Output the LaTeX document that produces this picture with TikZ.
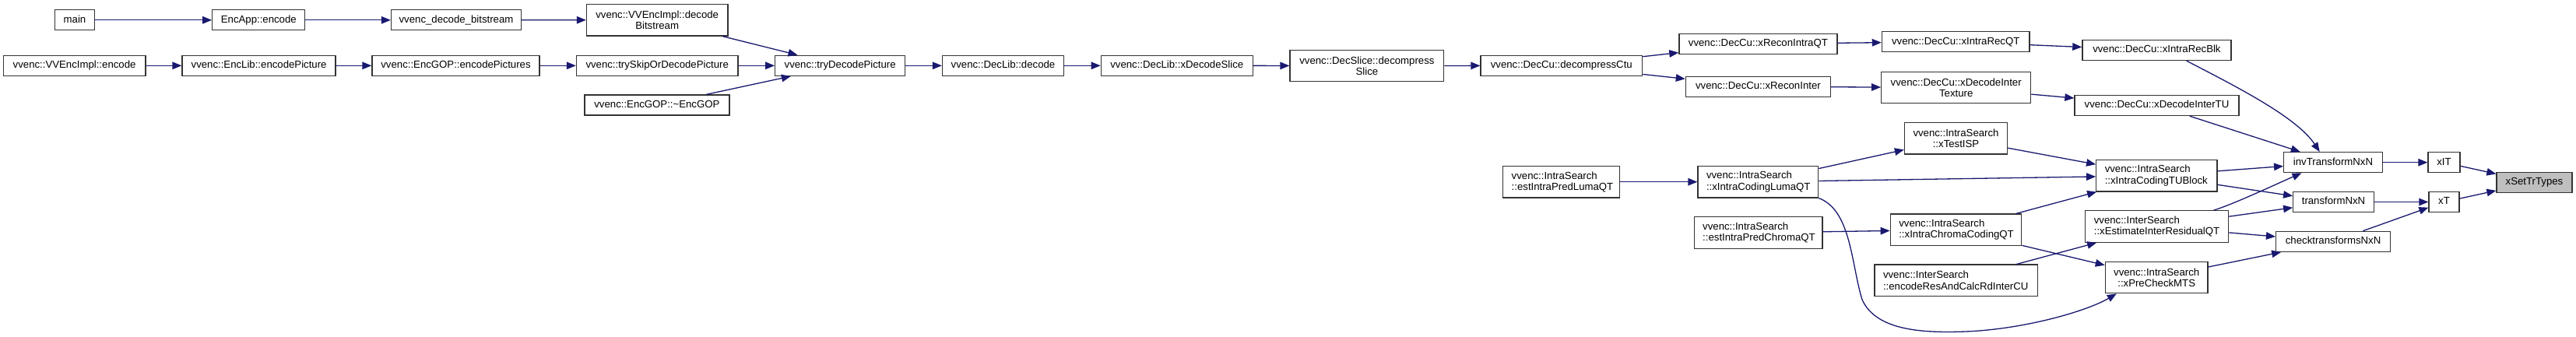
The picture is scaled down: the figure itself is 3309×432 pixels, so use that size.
\documentclass[tikz,border=0pt]{standalone}
\usepackage{fontspec}
\setmainfont{Liberation Sans}
\usetikzlibrary{arrows.meta}
\definecolor{edgeblue}{HTML}{191970}
\definecolor{focusgray}{HTML}{BFBFBF}
\definecolor{bordergray}{HTML}{333333}
\begin{document}
\begin{tikzpicture}[x=1pt,y=-1pt,
  nodebase/.style={draw=bordergray, line width=1.3pt, fill=white, inner sep=0pt, text=black,
    font=\fontsize{13.2}{14.3}\selectfont,
    execute at begin node={\hyphenpenalty=10000\exhyphenpenalty=10000\relax}},
  one/.style={nodebase, minimum height=26pt, text height=9.6pt, text depth=2.8pt, minimum width=#1},
  twoc/.style={nodebase, minimum height=40.4pt, align=center, minimum width=#1},
  twol/.style={nodebase, minimum height=40.4pt, align=left, inner xsep=11pt, text width=#1},
  edge/.style={draw=edgeblue, line width=1.3pt, -{Triangle[length=12pt,width=9.5pt]}}
]
\useasboundingbox (0,0) rectangle (3309,432);
\fill[white] (0,0) rectangle (3309,432);

% nodes
\node[one=51pt] (main) at (96,25.8) {main};
\node[one=119pt] (encapp) at (332.3,25.8) {EncApp::encode};
\node[one=167pt] (decbs) at (586,25.8) {vvenc\_decode\_bitstream};
\node[twoc=181.5pt] (impldec) at (844.2,25.7) {vvenc::VVEncImpl::decode\\Bitstream};
\node[one=182.7pt] (implenc) at (95.6,84.3) {vvenc::VVEncImpl::encode};
\node[one=197pt] (encpic) at (332.6,84.3) {vvenc::EncLib::encodePicture};
\node[one=215pt] (encpics) at (585.5,84.3) {vvenc::EncGOP::encodePictures};
\node[one=207.5pt] (tryskip) at (844.2,84.3) {vvenc::trySkipOrDecodePicture};
\node[one=186pt] (dtor) at (843.9,135) {vvenc::EncGOP::\textasciitilde EncGOP};
\node[one=167pt] (trydec) at (1079.2,84.3) {vvenc::tryDecodePicture};
\node[one=156pt] (decode) at (1288.5,84.3) {vvenc::DecLib::decode};
\node[one=195pt] (xdecslice) at (1511.8,84.3) {vvenc::DecLib::xDecodeSlice};
\node[twoc=197.8pt] (decompslice) at (1755.9,84.5) {vvenc::DecSlice::decompress\\Slice};
\node[one=207.6pt] (decompctu) at (2005.8,84.3) {vvenc::DecCu::decompressCtu};
\node[one=203pt] (reconintra) at (2258.4,56.3) {vvenc::DecCu::xReconIntraQT};
\node[one=186pt] (reconinter) at (2258.4,111.3) {vvenc::DecCu::xReconInter};
\node[one=189.6pt] (intrarecqt) at (2512.2,53.7) {vvenc::DecCu::xIntraRecQT};
\node[one=191pt] (intrarecblk) at (2770.4,64.5) {vvenc::DecCu::xIntraRecBlk};
\node[twoc=192pt] (decintertex) at (2512.7,112.5) {vvenc::DecCu::xDecodeInter\\Texture};
\node[one=211pt] (decintertu) at (2770.5,135.5) {vvenc::DecCu::xDecodeInterTU};
\node[twoc=132pt] (testisp) at (2512.5,177.8) {vvenc::IntraSearch\\::xTestISP};
\node[twol=133.3pt] (tublock) at (2770.4,225.7) {vvenc::IntraSearch\\::xIntraCodingTUBlock};
\node[one=126.7pt] (invt) at (2997,208.7) {invTransformNxN};
\node[one=41pt] (xit) at (3139.5,208.7) {xIT};
\node[one=97pt, fill=focusgray] (settr) at (3255.5,234.2) {xSetTrTypes};
\node[one=103.6pt] (trnxn) at (2997.5,259.5) {transformNxN};
\node[one=39pt] (xt) at (3139.5,259.5) {xT};
\node[twol=128pt] (lumaest) at (2005.7,233.7) {vvenc::IntraSearch\\::estIntraPredLumaQT};
\node[twol=132.6pt] (lumacod) at (2258.3,233.7) {vvenc::IntraSearch\\::xIntraCodingLumaQT};
\node[twol=142.8pt] (chromaest) at (2258.6,299) {vvenc::IntraSearch\\::estIntraPredChromaQT};
\node[twol=146.4pt] (chromacod) at (2512.5,295.2) {vvenc::IntraSearch\\::xIntraChromaCodingQT};
\node[twol=161.8pt] (estinter) at (2770.7,291) {vvenc::InterSearch\\::xEstimateInterResidualQT};
\node[one=147pt] (checktr) at (2997.1,310.3) {checktransformsNxN};
\node[twol=187.4pt] (encres) at (2512.7,360.3) {vvenc::InterSearch\\::encodeResAndCalcRdInterCU};
\node[twoc=131.7pt] (premts) at (2770.2,356.5) {vvenc::IntraSearch\\::xPreCheckMTS};

% edges
\draw[edge] (main) -- (encapp);
\draw[edge] (encapp) -- (decbs);
\draw[edge] (decbs) -- (impldec);
\draw[edge] (impldec) -- (trydec);
\draw[edge] (implenc) -- (encpic);
\draw[edge] (encpic) -- (encpics);
\draw[edge] (encpics) -- (tryskip);
\draw[edge] (tryskip) -- (trydec);
\draw[edge] (dtor) -- (trydec);
\draw[edge] (trydec) -- (decode);
\draw[edge] (decode) -- (xdecslice);
\draw[edge] (xdecslice) -- (decompslice);
\draw[edge] (decompslice) -- (decompctu);
\draw[edge] (decompctu) -- (reconintra);
\draw[edge] (decompctu) -- (reconinter);
\draw[edge] (reconintra) -- (intrarecqt);
\draw[edge] (reconinter) -- (decintertex);
\draw[edge] (intrarecqt) -- (intrarecblk);
\draw[edge] (decintertex) -- (decintertu);
\draw[edge] ([xshift=38.3pt]intrarecblk.south) .. controls (2870,110) and (2950,150) .. ([xshift=-17.3pt]invt.north);
\draw[edge] (decintertu) -- (invt);
\draw[edge] (lumacod) -- (testisp);
\draw[edge] (testisp) -- (tublock);
\draw[edge] (lumacod) -- (tublock);
\draw[edge] (lumacod.south east) .. controls (2378,270) and (2378,340) .. (2392,385)
   .. controls (2410,425) and (2470,428) .. (2525,426)
   .. controls (2600,423) and (2680,400) .. ([xshift=-51.4pt]premts.south);
\draw[edge] (lumaest) -- (lumacod);
\draw[edge] (chromaest) -- (chromacod);
\draw[edge] (chromacod) -- (tublock);
\draw[edge] (chromacod) -- (premts);
\draw[edge] (encres) -- (estinter);
\draw[edge] (tublock) -- (invt);
\draw[edge] (tublock) -- (trnxn);
\draw[edge] ([xshift=72.8pt]estinter.north) .. controls (2870,262) and (2925,236) .. ([xshift=-40.5pt]invt.south);
\draw[edge] (estinter) -- (trnxn);
\draw[edge] (estinter) -- (checktr);
\draw[edge] (premts) -- (checktr);
\draw[edge] (invt) -- (xit);
\draw[edge] (trnxn) -- (xt);
\draw[edge] (checktr) -- (xt);
\draw[edge] (xit) -- (settr);
\draw[edge] (xt) -- (settr);
\end{tikzpicture}
\end{document}
